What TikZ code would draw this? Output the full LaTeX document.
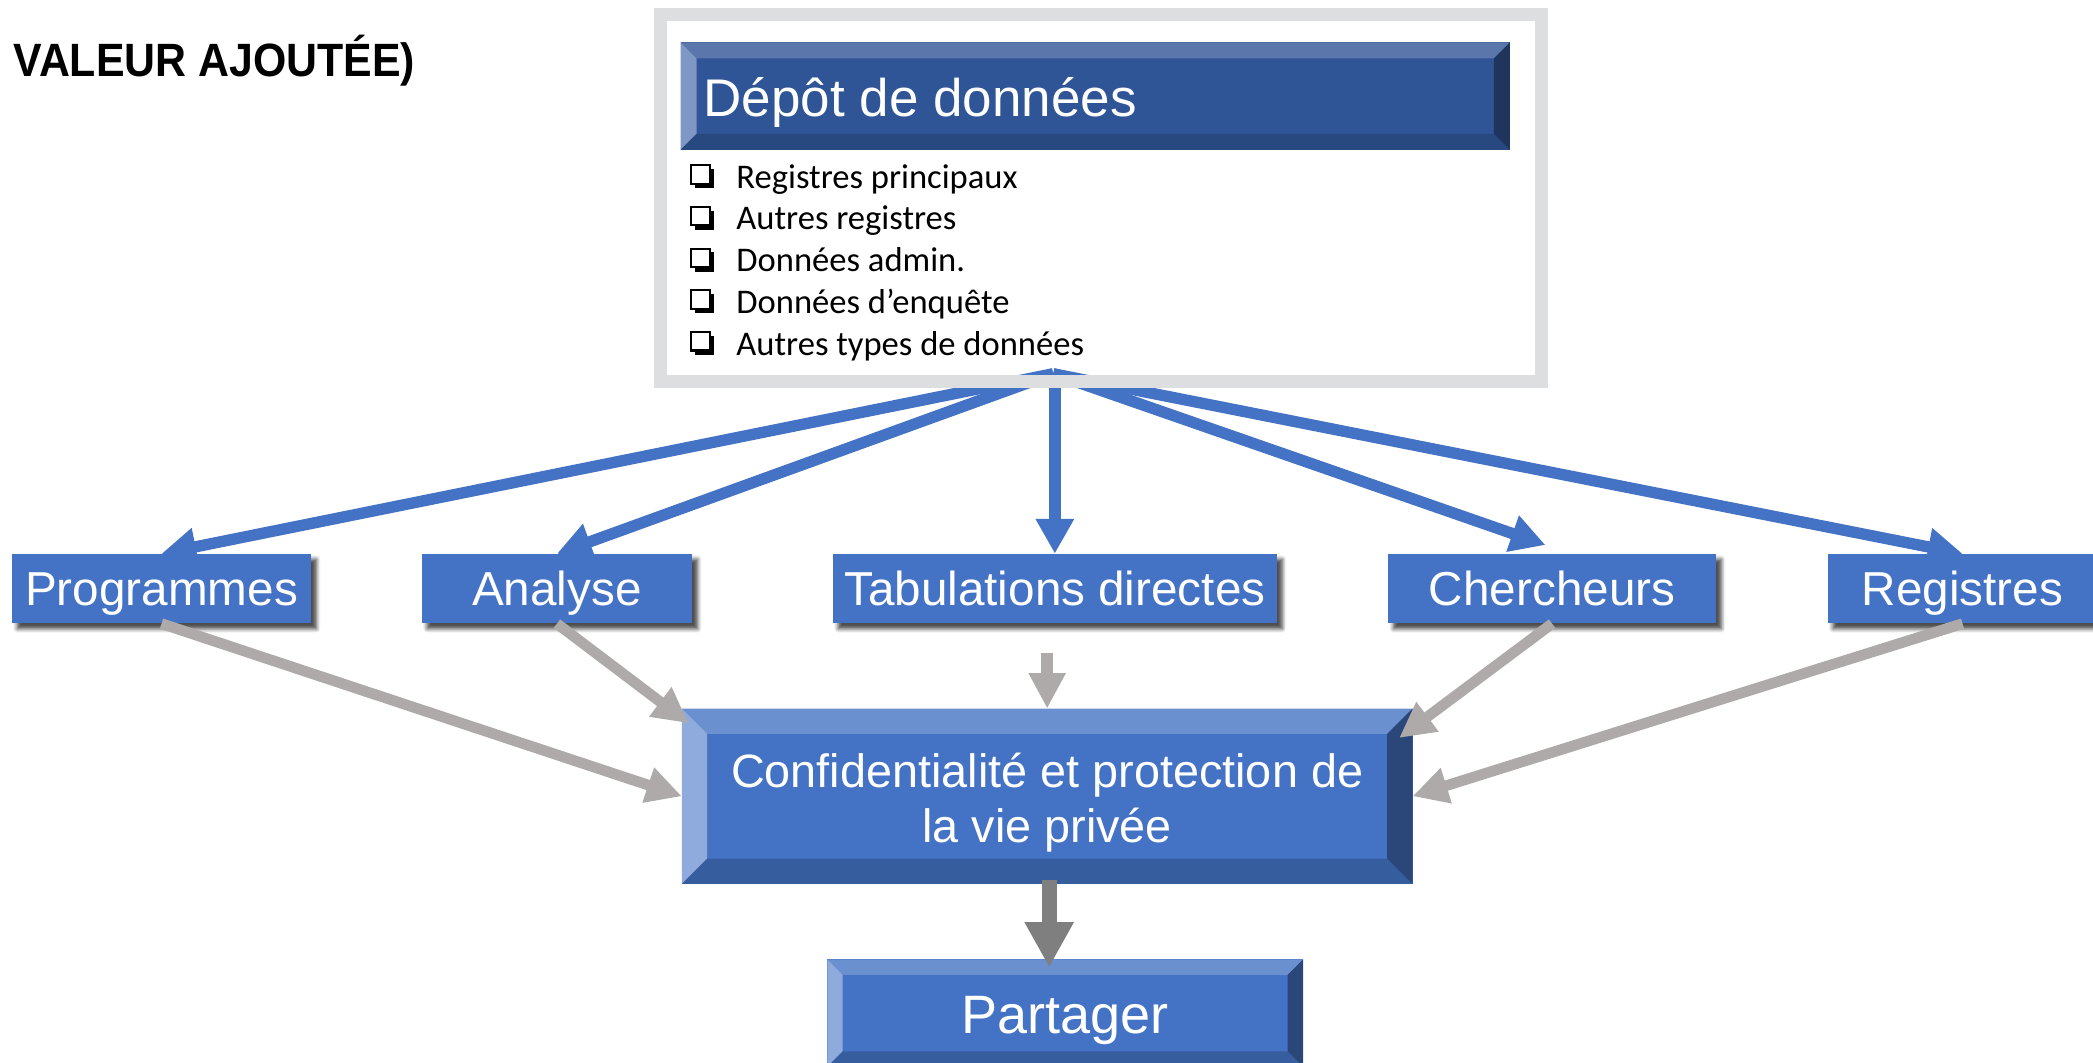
\documentclass[tikz,border=0pt]{standalone}
\usepackage{fontspec}
\setmainfont{Liberation Sans}
\newfontfamily\calib{Carlito}
\usepackage{graphicx}
\usetikzlibrary{arrows.meta,shadows.blur}

\definecolor{flatblue}{RGB}{68,114,196}
\definecolor{arrgrey}{RGB}{174,170,170}
\definecolor{darkgrey}{RGB}{127,127,127}
\definecolor{framegrey}{RGB}{221,222,224}
\definecolor{depc}{RGB}{47,85,151}
\definecolor{dept}{RGB}{90,118,171}
\definecolor{depl}{RGB}{127,151,196}
\definecolor{depb}{RGB}{40,72,128}
\definecolor{depr}{RGB}{31,53,94}
\definecolor{bvc}{RGB}{68,114,196}
\definecolor{bvt}{RGB}{106,144,207}
\definecolor{bvl}{RGB}{143,170,220}
\definecolor{bvb}{RGB}{54,94,158}
\definecolor{bvr}{RGB}{43,70,121}

% #1 node, #2 bevel, #3 centre, #4 top, #5 left, #6 bottom, #7 right
\newcommand\bevelfaces[7]{%
  \fill[#3] (#1.north west) rectangle (#1.south east);
  \fill[#4] (#1.north west) -- (#1.north east) -- ([shift={(-#2,#2)}]#1.north east) -- ([shift={(#2,#2)}]#1.north west) -- cycle;
  \fill[#5] (#1.north west) -- ([shift={(#2,#2)}]#1.north west) -- ([shift={(#2,-#2)}]#1.south west) -- (#1.south west) -- cycle;
  \fill[#6] (#1.south west) -- ([shift={(#2,-#2)}]#1.south west) -- ([shift={(-#2,-#2)}]#1.south east) -- (#1.south east) -- cycle;
  \fill[#7] (#1.south east) -- ([shift={(-#2,-#2)}]#1.south east) -- ([shift={(-#2,#2)}]#1.north east) -- (#1.north east) -- cycle;
}

\tikzset{
  flatbox/.style={fill=flatblue, text=white, inner sep=0pt, minimum height=52pt,
    text height=25.5pt, text depth=0pt, font=\fontsize{35.7}{42}\selectfont,
    blur shadow={shadow xshift=4pt, shadow yshift=-4pt, shadow blur radius=3pt, shadow opacity=45}},
  bevelbase/.style={inner sep=0pt},
  bluearr/.style={draw=flatblue, line width=8.5pt, -{Triangle[length=26pt,width=27pt]}},
  greyarr/.style={draw=arrgrey, line width=8pt, -{Triangle[length=26.5pt,width=26pt]}},
  darkarr/.style={draw=darkgrey, line width=11.5pt, -{Triangle[length=34pt,width=34.5pt]}},
  wtext/.style={text=white, inner sep=0pt},
  itemtext/.style={anchor=base west, inner sep=0pt, font=\calib\fontsize{25.9}{31}\selectfont},
  chk/.pic={
    \fill[black] (3.5,3.5) rectangle (18,18);
    \filldraw[fill=white, draw=black, line width=1.6pt] (0.8,0.8) rectangle (14.6,14.6);
  }
}

\begin{document}
\begin{tikzpicture}[x=1pt,y=-1pt]
\useasboundingbox (0,0) rectangle (1568,796);
\clip (0,0) rectangle (1568,796);

% title fragment
\node[anchor=base west, inner sep=0pt, font=\bfseries\fontsize{35}{42}\selectfont] (title) at (10,57) {\scalebox{0.917}[1]{VALEUR AJOUTÉE)}};

% flat boxes (positions)
\node[flatbox, minimum width=224pt] (prog) at (121,441) {Programmes};
\node[flatbox, minimum width=202.5pt] (ana) at (417.25,441) {Analyse};
\node[flatbox, minimum width=332.5pt] (tab) at (790.25,441) {Tabulations directes};
\node[flatbox, minimum width=245.5pt] (cher) at (1162.75,441) {Chercheurs};
\node[flatbox, minimum width=202pt] (reg) at (1470.25,441) {Registres};

% blue arrows from the repository
\coordinate (apex) at (789,280);
\coordinate (apexv) at (790.25,280);
\coordinate (chertip) at ([shift={(-5,-6.5)}]cher.north);
\draw[bluearr] (apex) -- (prog.north);
\draw[bluearr] (apex) -- (ana.north);
\draw[bluearr] (apexv) -- (tab.north);
\draw[bluearr] (apex) -- (chertip);
\draw[bluearr] (apex) -- (reg.north);

% redraw boxes on top of arrows
\node[flatbox, minimum width=224pt] at (prog) {Programmes};
\node[flatbox, minimum width=202.5pt] at (ana) {Analyse};
\node[flatbox, minimum width=332.5pt] at (tab) {Tabulations directes};
\node[flatbox, minimum width=245.5pt] at (cher) {Chercheurs};
\node[flatbox, minimum width=202pt] at (reg) {Registres};

% repository frame
\node[draw=framegrey, line width=10pt, minimum width=660pt, minimum height=275pt, inner sep=0pt] (frame) at (825,148.5) {};

% header
\node[bevelbase, minimum width=621pt, minimum height=80pt] (depot) at (820.5,72) {};
\bevelfaces{depot}{12}{depc}{dept}{depl}{depb}{depr}
\node[wtext, anchor=base west, font=\fontsize{39.7}{47}\selectfont] (depotT) at (527,87) {Dépôt de données};

% list
\foreach \t [count=\i] in {Registres principaux, Autres registres, Données admin., Données d’enquête, Autres types de données}{
  \pgfmathsetmacro\yb{141+(\i-1)*31.25}
  \pic at (517,\yb-18) {chk};
  \node[itemtext] (li\i) at (551.5,\yb) {\t};
}

% confidentiality box
\node[bevelbase, minimum width=547pt, minimum height=131pt] (conf) at (784.5,596.5) {};
\bevelfaces{conf}{19}{bvc}{bvt}{bvl}{bvb}{bvr}
\node[wtext, anchor=base, font=\fontsize{35.05}{42}\selectfont] (confT1) at (784.5,589.6) {Confidentialité et protection de};
\node[wtext, anchor=base, font=\fontsize{35.05}{42}\selectfont] (confT2) at (784.5,631.5) {la vie privée};

% share box
\node[bevelbase, minimum width=356pt, minimum height=80pt] (part) at (798,759) {};
\bevelfaces{part}{11.5}{bvc}{bvt}{bvl}{bvb}{bvr}
\node[wtext, anchor=base, font=\fontsize{40.5}{48}\selectfont] (partT) at (798,774) {Partager};

% grey arrows
\coordinate (tabstart) at (784.5,489);
\draw[greyarr] (prog.south) -- (conf.west);
\draw[greyarr] (ana.south) -- ([shift={(5,11)}]conf.north west);
\draw[greyarr, line width=9pt] (tabstart) -- (conf.north);
\draw[greyarr] (cher.south) -- ([shift={(-10,22)}]conf.north east);
\draw[greyarr] (reg.south) -- (conf.east);

% dark arrow
\draw[darkarr] ([xshift=1.5pt,yshift=3pt]conf.south) -- ([xshift=-12pt,yshift=-6pt]part.north);
\end{tikzpicture}
\end{document}
